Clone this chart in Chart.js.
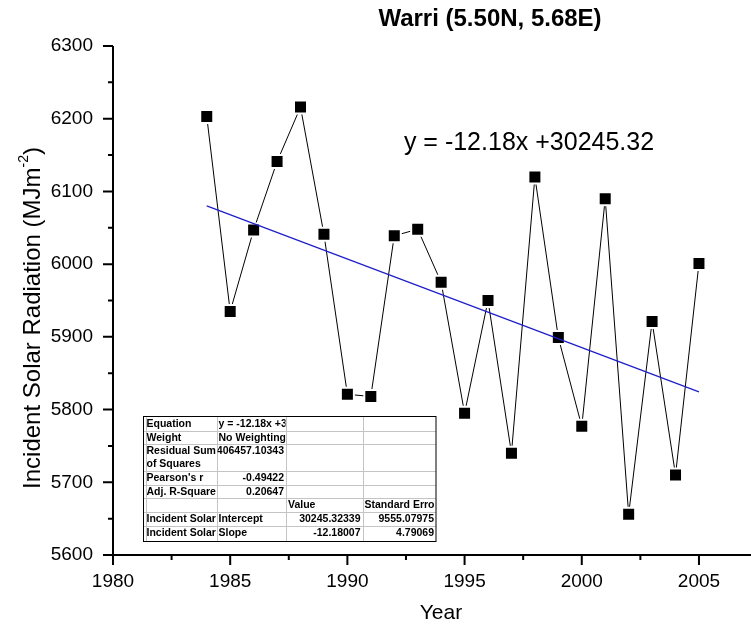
<!DOCTYPE html>
<html>
<head>
<meta charset="utf-8">
<title>Warri (5.50N, 5.68E)</title>
<script src="https://cdn.jsdelivr.net/npm/chart.js@4/dist/chart.umd.min.js"></script>
<style>
  html, body { margin: 0; padding: 0; background: #ffffff; }
  #wrap { width: 751px; height: 633px; }
</style>
</head>
<body>
<div id="wrap"><canvas id="chart" width="751" height="633"></canvas></div>
<script>
// Annual incident solar radiation at Warri
const years = [1984, 1985, 1986, 1987, 1988, 1989, 1990, 1991, 1992, 1993, 1994,
               1995, 1996, 1997, 1998, 1999, 2000, 2001, 2002, 2003, 2004, 2005];
const radiation = [6203, 5935, 6047, 6141, 6216, 6041, 5821, 5818, 6039, 6048, 5975,
                   5795, 5950, 5740, 6120, 5899, 5777, 6090, 5656, 5921, 5710, 6001];

// Linear fit y = slope * x + intercept
const fitSlope = -12.18;
const fitIntercept = 30245.32;
const fitLabel = 'y = -12.18x +30245.32';

// Axis ticks
const xTicks = [1980, 1985, 1990, 1995, 2000, 2005];
const yTicks = [5600, 5700, 5800, 5900, 6000, 6100, 6200, 6300];

// Regression summary table (label, column 2, column 3, column 4)
const statCol1 = ['Equation', 'Weight', 'Residual Sum|of Squares', "Pearson's r", 'Adj. R-Square', '', 'Incident Solar', 'Incident Solar'];
const statCol2 = ['y = -12.18x +3', 'No Weighting', '406457.10343', '-0.49422', '0.20647', '', 'Intercept', 'Slope'];
const statCol3 = ['', '', '', '', '', 'Value', '30245.32339', '-12.18007'];
const statCol4 = ['', '', '', '', '', 'Standard Erro', '9555.07975', '4.79069'];

const FONT = "'Liberation Sans', Arial, Helvetica, sans-serif";
const font = (size, bold) => (bold ? 'bold ' : '') + size + 'px ' + FONT;

const observed = years.map((y, i) => ({ x: y, y: radiation[i] }));
const fitLine = [years[0], years[years.length - 1]].map(x => ({ x: x, y: fitSlope * x + fitIntercept }));

const isNumber = s => /^-?[0-9.]+$/.test(s);

const decor = {
  id: 'decor',
  afterDatasetsDraw(chart) {
    const ctx = chart.ctx;
    // regression summary table
    const left = 143.5, top = 416.5;
    const colEdges = [left, 216.5, 286, 362.5, 436];
    const rowH = [14, 13, 27, 14, 13, 14, 14, 16];
    const rowEdges = [top];
    rowH.forEach(h => rowEdges.push(rowEdges[rowEdges.length - 1] + h));
    const bottom = rowEdges[rowEdges.length - 1];
    ctx.save();
    ctx.fillStyle = '#ffffff';
    ctx.fillRect(left, top, colEdges[4] - left, bottom - top);
    ctx.strokeStyle = '#c4c4c4';
    ctx.lineWidth = 1;
    ctx.beginPath();
    rowEdges.slice(1, -1).forEach(y => { ctx.moveTo(left, Math.round(y) + 0.5); ctx.lineTo(colEdges[4], Math.round(y) + 0.5); });
    colEdges.slice(1, -1).forEach(x => { ctx.moveTo(Math.round(x) + 0.5, top); ctx.lineTo(Math.round(x) + 0.5, bottom); });
    ctx.moveTo(146.5, top); ctx.lineTo(146.5, bottom);
    ctx.stroke();
    ctx.strokeStyle = '#000000';
    ctx.strokeRect(left, top, colEdges[4] - left, bottom - top);

    ctx.fillStyle = '#000000';
    ctx.font = font(10.5, true);
    ctx.textBaseline = 'middle';
    const cols = [statCol1, statCol2, statCol3, statCol4];
    for (let r = 0; r < rowH.length; r++) {
      for (let c = 0; c < 4; c++) {
        const text = cols[c][r];
        if (!text) continue;
        const x0 = colEdges[c], x1 = colEdges[c + 1];
        const y0 = rowEdges[r];
        ctx.save();
        ctx.beginPath();
        ctx.rect(x0 + 1, y0, x1 - x0 - 1.5, rowH[r]);
        ctx.clip();
        const lines = text.split('|');
        lines.forEach((line, k) => {
          const ty = y0 + 7.5 + k * 13.5;
          if (isNumber(line)) {
            ctx.textAlign = 'right';
            ctx.fillText(line, x1 - 2, ty);
          } else {
            ctx.textAlign = 'left';
            ctx.fillText(line, x0 + (c === 0 ? 3 : 2), ty);
          }
        });
        ctx.restore();
      }
    }
    ctx.restore();
  },
  afterDraw(chart) {
    const ctx = chart.ctx;
    const area = chart.chartArea;
    const xs = chart.scales.x, ys = chart.scales.y;
    ctx.save();
    ctx.strokeStyle = '#000000';
    ctx.lineWidth = 2;
    // axis lines
    ctx.beginPath();
    ctx.moveTo(area.left, area.top);
    ctx.lineTo(area.left, area.bottom);
    ctx.lineTo(area.right, area.bottom);
    ctx.stroke();
    // major and minor ticks (outward)
    ctx.beginPath();
    xTicks.forEach(v => {
      const px = xs.getPixelForValue(v);
      ctx.moveTo(px, area.bottom); ctx.lineTo(px, area.bottom + 10);
      const mid = xs.getPixelForValue(v + (xTicks[1] - xTicks[0]) / 2);
      if (mid <= area.right) { ctx.moveTo(mid, area.bottom); ctx.lineTo(mid, area.bottom + 5); }
    });
    yTicks.forEach((v, i) => {
      const py = ys.getPixelForValue(v);
      ctx.moveTo(area.left, py); ctx.lineTo(area.left - 10, py);
      if (i < yTicks.length - 1) {
        const mid = ys.getPixelForValue(v + (yTicks[1] - yTicks[0]) / 2);
        ctx.moveTo(area.left, mid); ctx.lineTo(area.left - 5, mid);
      }
    });
    ctx.stroke();

    ctx.fillStyle = '#000000';
    // chart title
    ctx.font = font(24, true);
    ctx.textAlign = 'center';
    ctx.textBaseline = 'middle';
    ctx.fillText('Warri (5.50N, 5.68E)', 490, 19);
    // fit equation
    ctx.font = font(25, false);
    ctx.fillText(fitLabel, 529, 143);
    // x axis title
    ctx.font = font(21, false);
    ctx.fillText('Year', 441, 613);
    // y axis title with superscript unit
    ctx.translate(33, 318);
    ctx.rotate(-Math.PI / 2);
    const main = 'Incident Solar Radiation (MJm', sup = '-2', close = ')';
    ctx.font = font(24, false);
    const w1 = ctx.measureText(main).width, w3 = ctx.measureText(close).width;
    ctx.font = font(14, false);
    const w2 = ctx.measureText(sup).width;
    const x0 = -(w1 + w2 + w3) / 2;
    ctx.textAlign = 'left';
    ctx.font = font(24, false);
    ctx.fillText(main, x0, 0);
    ctx.font = font(14, false);
    ctx.fillText(sup, x0 + w1, -9);
    ctx.font = font(24, false);
    ctx.fillText(close, x0 + w1 + w2, 0);
    ctx.restore();
  }
};

const plainTick = v => String(v);

new Chart(document.getElementById('chart'), {
  type: 'scatter',
  data: {
    datasets: [
      {
        label: 'Linear fit',
        data: fitLine,
        showLine: true,
        borderColor: '#1e1ec8',
        borderWidth: 1.2,
        pointRadius: 0,
        pointHoverRadius: 0,
        order: 0
      },
      {
        label: 'Incident Solar Radiation',
        data: observed,
        showLine: true,
        borderColor: '#000000',
        borderWidth: 1,
        pointStyle: 'rect',
        pointRadius: 9.2,
        pointHoverRadius: 9.2,
        pointBackgroundColor: '#000000',
        pointBorderColor: '#ffffff',
        pointBorderWidth: 2,
        order: 1
      }
    ]
  },
  options: {
    responsive: false,
    animation: false,
    devicePixelRatio: 1,
    layout: { autoPadding: false, padding: { top: 46, right: 0, bottom: 0, left: 0 } },
    plugins: {
      legend: { display: false },
      tooltip: { enabled: false },
      title: { display: false }
    },
    scales: {
      x: {
        type: 'linear',
        min: 1980,
        max: 2007.22,
        afterBuildTicks: s => { s.ticks = xTicks.map(v => ({ value: v })); },
        afterFit: s => { s.height = 78; s.paddingLeft = 0; s.paddingRight = 0; },
        grid: { display: false, drawTicks: false },
        border: { display: false },
        ticks: { padding: 15, color: '#000000', font: { family: FONT, size: 19 }, callback: plainTick }
      },
      y: {
        type: 'linear',
        min: 5600,
        max: 6300,
        afterBuildTicks: s => { s.ticks = yTicks.map(v => ({ value: v })); },
        afterFit: s => { s.width = 113; s.paddingTop = 0; s.paddingBottom = 0; },
        grid: { display: false, drawTicks: false },
        border: { display: false },
        ticks: { padding: 20, color: '#000000', font: { family: FONT, size: 19 }, callback: plainTick }
      }
    }
  },
  plugins: [decor]
});
</script>
</body>
</html>
